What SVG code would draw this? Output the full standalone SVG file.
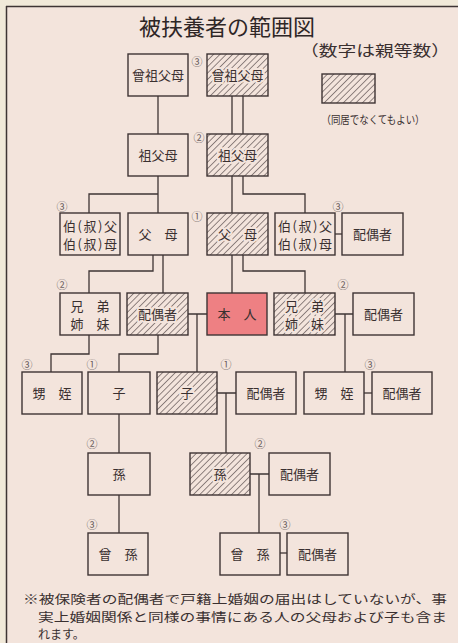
<svg xmlns="http://www.w3.org/2000/svg" width="458" height="643" viewBox="0 0 458 643">
<defs>
<pattern id="hatch" patternUnits="userSpaceOnUse" width="4.5" height="4.5" patternTransform="rotate(45)">
<rect width="4.5" height="4.5" fill="#f3e4dc"/>
<line x1="0" y1="0" x2="0" y2="4.5" stroke="#5a4e4e" stroke-width="1.3"/>
</pattern>
<style>
.bg{fill:#f3e4dc}
.box{fill:#f3e4dc;stroke:#3e3434;stroke-width:1.4}
.hb{fill:url(#hatch);stroke:#3e3434;stroke-width:1.4}
.red{fill:#ee8083;stroke:#3e3434;stroke-width:1.4}
.t{font-family:"Noto Sans CJK JP","Noto Sans CJK SC",sans-serif;font-size:13px;fill:#3a3030;text-anchor:middle}
.th{font-family:"Noto Sans CJK JP","Noto Sans CJK SC",sans-serif;font-size:13px;fill:#3a3030;text-anchor:middle;stroke:#f3e4dc;stroke-width:4;paint-order:stroke;stroke-linejoin:round}
.n{font-family:"Noto Sans CJK JP","DejaVu Sans",sans-serif;font-size:11px;fill:#6a5e5e;text-anchor:middle}
.c{fill:none;stroke:#3e3434;stroke-width:1.3}
</style>
</defs>
<rect width="458" height="643" fill="#f1e9d9"/>
<rect x="7" y="7" width="451" height="636" class="bg"/>
<path d="M6 6.5 H458 M6.5 6 V643" fill="none" stroke="#3e3434" stroke-width="1.5"/>

<g id="title">
<text x="227" y="35" style="font-family:'Noto Sans CJK JP',sans-serif;font-size:22px;fill:#2e2626;text-anchor:middle">被扶養者の範囲図</text>
<text x="375" y="56" textLength="150" lengthAdjust="spacingAndGlyphs" style="font-family:'Noto Sans CJK JP',sans-serif;font-size:15px;fill:#3a3030;text-anchor:middle">（数字は親等数）</text>
</g>
<g id="legend">
<rect x="322" y="74" width="53" height="29" class="hb"/>
<text x="373" y="124" textLength="103" lengthAdjust="spacingAndGlyphs" style="font-family:'Noto Sans CJK JP',sans-serif;font-size:11px;fill:#3a3030;text-anchor:middle">（同居でなくてもよい）</text>
</g>

<g id="connectors" class="c">
<path d="M158 96 V134"/>
<path d="M232 96 V134 M243 96 V134"/>
<path d="M158 176 V213 M158 194 H89 V213"/>
<path d="M232 176 V213 M243 176 V194 H305 V213"/>
<path d="M335 234 H342"/>
<path d="M153 255 V271 H89 V293 M163 255 V293"/>
<path d="M232 255 V293 M243 255 V271 H305 V293"/>
<path d="M188 314 H207 M197 314 V372"/>
<path d="M335 314 H353 M345 314 V372"/>
<path d="M89 335 V354 H51 V372"/>
<path d="M158 335 V354 H119 V372"/>
<path d="M217 393 H236 M226 393 V453"/>
<path d="M364 393 H372"/>
<path d="M119 414 V453"/>
<path d="M250 474 H269 M259 474 V533"/>
<path d="M119 495 V533"/>
<path d="M280 553 H287"/>
</g>

<g id="n1l"><rect x="128" y="54" width="60" height="42" class="box"/><text x="158" y="79.5" class="t">曾祖父母</text></g>
<g id="n1r"><rect x="207" y="54" width="61" height="42" class="hb"/><text x="237.5" y="79.5" class="th">曾祖父母</text><text x="197" y="66" class="n">③</text></g>

<g id="n2l"><rect x="128" y="134" width="60" height="42" class="box"/><text x="158" y="159.5" class="t">祖父母</text></g>
<g id="n2r"><rect x="207" y="134" width="61" height="42" class="hb"/><text x="237.5" y="159.5" class="th">祖父母</text><text x="199" y="142" class="n">②</text></g>

<g id="n3a"><rect x="60" y="213" width="60" height="42" class="box"/><text x="90" y="231" class="t" textLength="54">伯(叔)父</text><text x="90" y="249" class="t" textLength="54">伯(叔)母</text><text x="62" y="211" class="n">③</text></g>
<g id="n3b"><rect x="128" y="213" width="60" height="42" class="box"/><text x="158" y="238.5" class="t">父　母</text></g>
<g id="n3c"><rect x="207" y="213" width="61" height="42" class="hb"/><text x="237.5" y="238.5" class="th">父　母</text><text x="197" y="221" class="n">①</text></g>
<g id="n3d"><rect x="275" y="213" width="60" height="42" class="box"/><text x="305" y="231" class="t" textLength="54">伯(叔)父</text><text x="305" y="249" class="t" textLength="54">伯(叔)母</text><text x="338" y="211" class="n">③</text></g>
<g id="n3e"><rect x="342" y="213" width="61" height="42" class="box"/><text x="372.5" y="238.5" class="t">配偶者</text></g>

<g id="n4a"><rect x="60" y="293" width="60" height="42" class="box"/><text x="90" y="311" class="t">兄　弟</text><text x="90" y="329" class="t">姉　妹</text><text x="62" y="289" class="n">②</text></g>
<g id="n4b"><rect x="127" y="293" width="61" height="42" class="hb"/><text x="157.5" y="318.5" class="th">配偶者</text></g>
<g id="n4c"><rect x="207" y="293" width="60" height="42" class="red"/><text x="237" y="318.5" class="t">本　人</text></g>
<g id="n4d"><rect x="274" y="293" width="61" height="42" class="hb"/><text x="304.5" y="311" class="th">兄　弟</text><text x="304.5" y="329" class="th">姉　妹</text><text x="343" y="289" class="n">②</text></g>
<g id="n4e"><rect x="353" y="293" width="61" height="42" class="box"/><text x="383.5" y="318.5" class="t">配偶者</text></g>

<g id="n5a"><rect x="22" y="372" width="60" height="42" class="box"/><text x="52" y="397.5" class="t">甥　姪</text><text x="27" y="369" class="n">③</text></g>
<g id="n5b"><rect x="88" y="372" width="62" height="42" class="box"/><text x="119" y="397.5" class="t">子</text><text x="92" y="369" class="n">①</text></g>
<g id="n5c"><rect x="157" y="372" width="60" height="42" class="hb"/><text x="187" y="397.5" class="th">子</text><text x="226" y="369" class="n">①</text></g>
<g id="n5d"><rect x="236" y="372" width="60" height="42" class="box"/><text x="266" y="397.5" class="t">配偶者</text></g>
<g id="n5e"><rect x="304" y="372" width="60" height="42" class="box"/><text x="334" y="397.5" class="t">甥　姪</text><text x="370" y="369" class="n">③</text></g>
<g id="n5f"><rect x="372" y="372" width="60" height="42" class="box"/><text x="402" y="397.5" class="t">配偶者</text></g>

<g id="n6a"><rect x="88" y="453" width="62" height="42" class="box"/><text x="119" y="478.5" class="t">孫</text><text x="92" y="448" class="n">②</text></g>
<g id="n6b"><rect x="190" y="453" width="60" height="42" class="hb"/><text x="220" y="478.5" class="th">孫</text><text x="260" y="448" class="n">②</text></g>
<g id="n6c"><rect x="269" y="453" width="61" height="42" class="box"/><text x="299.5" y="478.5" class="t">配偶者</text></g>

<g id="n7a"><rect x="88" y="533" width="60" height="42" class="box"/><text x="118" y="558.5" class="t">曾　孫</text><text x="92" y="529" class="n">③</text></g>
<g id="n7b"><rect x="220" y="533" width="60" height="42" class="box"/><text x="250" y="558.5" class="t">曾　孫</text><text x="285" y="529" class="n">③</text></g>
<g id="n7c"><rect x="287" y="533" width="61" height="42" class="box"/><text x="317.5" y="558.5" class="t">配偶者</text></g>

<g id="note" style="font-family:'Noto Sans CJK JP',sans-serif;font-size:12px;fill:#3a3030">
<text x="23" y="604" textLength="424" lengthAdjust="spacingAndGlyphs">※被保険者の配偶者で戸籍上婚姻の届出はしていないが、事</text>
<text x="38" y="621.5" textLength="409" lengthAdjust="spacingAndGlyphs">実上婚姻関係と同様の事情にある人の父母および子も含ま</text>
<text x="38" y="639">れます。</text>
</g>
</svg>
